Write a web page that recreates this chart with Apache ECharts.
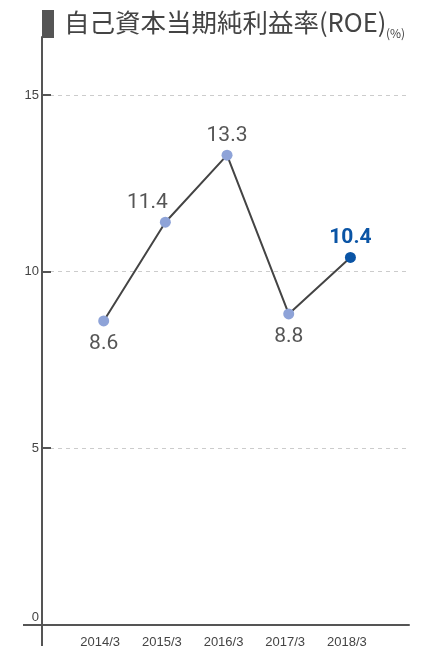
<!DOCTYPE html>
<html>
<head>
<meta charset="utf-8">
<script src="https://cdn.jsdelivr.net/npm/echarts@6/dist/echarts.min.js"></script>
<style>
html,body{margin:0;padding:0;background:#fff;}
#chart{width:423px;height:646px;}
</style>
</head>
<body>
<div id="chart"></div>
<script>
var categories = ['2014/3', '2015/3', '2016/3', '2017/3', '2018/3'];
var roeValues = [8.6, 11.4, 13.3, 8.8, 10.4];
var yTickValues = [0, 5, 10, 15];
var titleText = '自己資本当期純利益率(ROE)';
var unitText = '(%)';

var chart = echarts.init(document.getElementById('chart'), null, {renderer: 'canvas'});
var last = roeValues.length - 1;
var seriesData = roeValues.map(function (v, i) {
  var prev = i > 0 ? roeValues[i - 1] : v;
  var below = i === 0 ? v < roeValues[1] : v < prev;
  var item = {
    value: [i + 1, v],
    label: {position: below ? 'bottom' : 'top', distance: below ? 6.5 : 3.5}
  };
  if (i === 1) {
    item.label.offset = [-18, 0];
  }
  if (i === last) {
    item.itemStyle = {color: '#0a54a5'};
    item.label.color = '#0a54a5';
    item.label.fontWeight = 'bold';
  }
  return item;
});

var axisColor = '#555';
var option = {
  animation: false,
  title: [
    {text: titleText, left: 59, top: 5, textStyle: {fontFamily: 'Noto Sans CJK JP', fontSize: 25.5, fontWeight: 'normal', color: '#444'}},
    {text: unitText, left: 381, top: 22, textStyle: {fontFamily: 'Noto Sans CJK JP', fontSize: 12, fontWeight: 'normal', color: '#444'}}
  ],
  graphic: [
    {type: 'rect', left: 42, top: 10, shape: {width: 12, height: 28}, style: {fill: axisColor}}
  ],
  grid: {left: 42, right: 14, top: 37, bottom: 16, containLabel: false, outerBoundsMode: 'none'},
  xAxis: [{
    type: 'value',
    min: 0,
    max: 5.95,
    axisLine: {onZero: true, lineStyle: {color: axisColor, width: 2}},
    axisTick: {show: false},
    splitLine: {show: false},
    axisLabel: {
      customValues: categories.map(function (c, i) { return i + 1; }),
      formatter: function (v) { return categories[Math.round(v) - 1] || ''; },
      margin: 6,
      lineHeight: 13,
      fontFamily: 'Liberation Sans',
      fontSize: 13,
      color: '#444',
      padding: [0, 7, 0, 0]
    }
  }, {
    type: 'value',
    position: 'bottom',
    min: 0,
    max: 5.95,
    axisLine: {show: false, onZero: false},
    axisTick: {show: true, inside: false, length: 17, customValues: [0], lineStyle: {color: axisColor, width: 2}},
    splitLine: {show: false},
    axisLabel: {show: false}
  }],
  yAxis: [{
    type: 'value',
    min: -0.16,
    max: 16.65,
    axisLine: {onZero: false, lineStyle: {color: axisColor, width: 2}},
    axisTick: {show: true, inside: true, length: 9, customValues: yTickValues, lineStyle: {color: axisColor, width: 2}},
    splitLine: {show: true, lineStyle: {color: '#ccc', type: [4, 4], width: 1}},
    axisLabel: {
      customValues: yTickValues,
      margin: 3,
      fontFamily: 'Liberation Sans',
      fontSize: 13,
      color: '#444',
      formatter: function (v) { return v === 0 ? '{z|0}' : String(v); },
      rich: {z: {fontFamily: 'Liberation Sans', fontSize: 13, color: '#444', padding: [0, 0, 14, 0]}}
    }
  }, {
    type: 'value',
    position: 'left',
    min: -0.16,
    max: 16.65,
    axisLine: {show: false},
    axisTick: {show: true, inside: false, length: 19, customValues: [0], lineStyle: {color: axisColor, width: 2}},
    splitLine: {show: false},
    axisLabel: {show: false}
  }],
  series: [{
    type: 'line',
    data: seriesData,
    symbol: 'circle',
    symbolSize: 11,
    lineStyle: {color: '#444', width: 2},
    itemStyle: {color: '#8ea3d8'},
    label: {
      show: true,
      fontFamily: 'Roboto',
      fontSize: 21,
      color: '#555',
      formatter: function (p) { return p.value[1].toFixed(1); }
    },
    z: 5
  }]
};
chart.setOption(option);
</script>
</body>
</html>
